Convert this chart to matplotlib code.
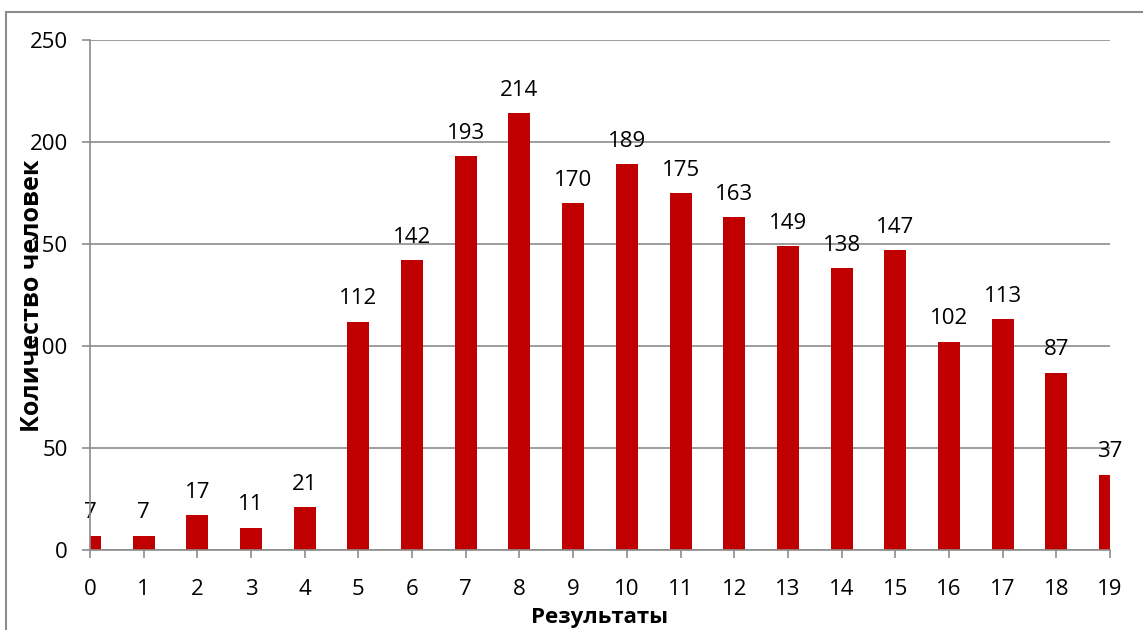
import matplotlib.pyplot as plt
from matplotlib.patches import Rectangle

# -----------------------------
# DATA
# -----------------------------
results = list(range(20))
counts = [7, 7, 17, 11, 21, 112, 142, 193, 214, 170,
          189, 175, 163, 149, 138, 147, 102, 113, 87, 37]

plt.rcParams['font.family'] = ['Open Sans', 'DejaVu Sans']

fig = plt.figure(figsize=(11.43, 6.3), dpi=100)
ax = fig.add_axes([90 / 1143, 1 - 550 / 630, (1110 - 90) / 1143, 510 / 630])

grid_color = "#8c8c8c"
ax.bar(results, counts, width=0.41, color="#C00000", zorder=3)

# value labels above bars
for x, v in zip(results, counts):
    ax.annotate(str(v), (x, v), xytext=(0, 9), textcoords="offset points",
                ha="center", va="bottom", fontsize=16, clip_on=False)

ax.set_xlim(0, 19)
ax.set_ylim(0, 250)
ax.set_xticks(results)
ax.set_yticks([0, 50, 100, 150, 200, 250])
ax.tick_params(axis="both", labelsize=16, color=grid_color, length=6, width=1.2)
ax.tick_params(axis="x", pad=15)
ax.tick_params(axis="y", pad=10)

ax.grid(axis="y", color=grid_color, linewidth=1.2, zorder=0)
for side in ["top", "right"]:
    ax.spines[side].set_visible(False)
for side in ["left", "bottom"]:
    ax.spines[side].set_color(grid_color)
    ax.spines[side].set_linewidth(1.2)
    ax.spines[side].set_zorder(4)

fig.text(600 / 1143, 1 - 618 / 630, "Результаты", ha="center", va="center",
         fontsize=16, fontweight="bold")
fig.text(33 / 1143, 1 - 296 / 630, "Количество человек", ha="center", va="center",
         fontsize=18, fontweight="bold", rotation=90)

# outer chart frame
fig.patches.append(Rectangle((6 / 1143, -0.05), 1.2, 1 - 12 / 630 + 0.05,
                             transform=fig.transFigure, fill=False,
                             edgecolor=grid_color, linewidth=1.5))

fig.savefig("out.png", dpi=100)
